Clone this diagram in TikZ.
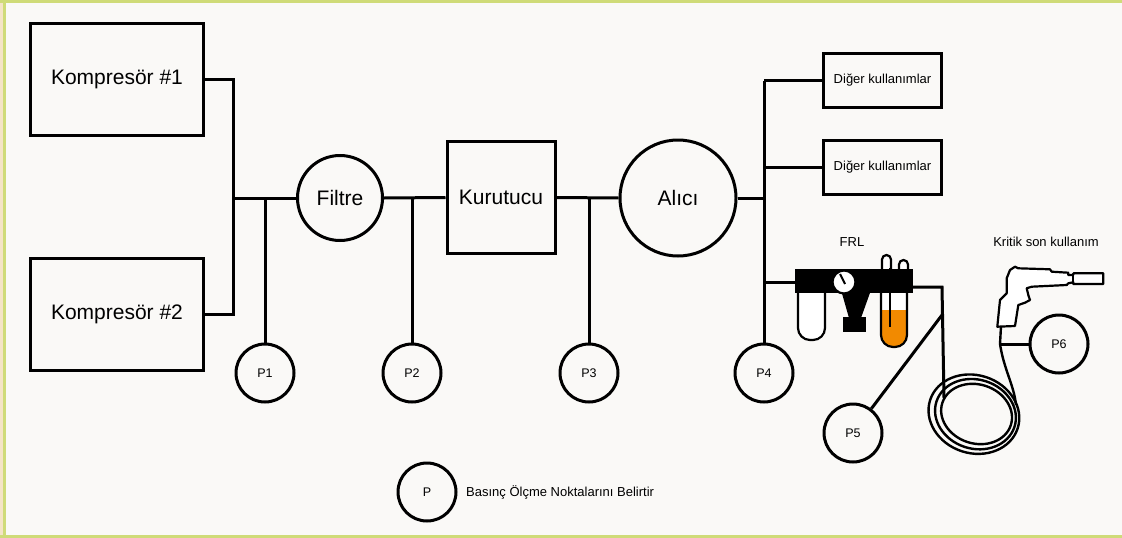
\documentclass[tikz,border=0pt]{standalone}
\usepackage{fontspec}
\setmainfont{Liberation Sans}
\begin{document}
\begin{tikzpicture}[x=1pt,y=-1pt,line join=miter,
  every node/.style={inner sep=0pt},
  bigtext/.style={font=\fontsize{21}{25}\selectfont},
  smalltext/.style={font=\fontsize{13}{16}\selectfont},
  ptext/.style={font=\fontsize{12.5}{15}\selectfont},
  unit/.style={draw=black,line width=3pt,fill=none,rectangle},
  vessel/.style={draw=black,line width=3pt,circle},
  gauge/.style={draw=black,line width=3pt,circle,minimum size=58pt,ptext},
  pipe/.style={draw=black,line width=3pt},
  thinpipe/.style={draw=black,line width=2.4pt},
  part/.style={draw=black,line width=2.2pt}]
\definecolor{paper}{HTML}{FAF9F7}
\definecolor{rim}{HTML}{CFDB78}
\definecolor{sand}{HTML}{F4E4C6}
\definecolor{oil}{HTML}{F28A00}

% page background and frame
\useasboundingbox (0,0) rectangle (1122,538);
\fill[paper] (0,0) rectangle (1122,538);
\fill[sand] (0,0) rectangle (3,538);
\fill[rim] (3,0) rectangle (6,538);
\fill[rim] (0,0) rectangle (1122,2.5);
\fill[rim] (0,535) rectangle (1122,538);

% supply side
\node[unit,bigtext,minimum width=173pt,minimum height=112pt] (k1) at (117,79.5) {Kompresör \#1};
\node[unit,bigtext,minimum width=173pt,minimum height=112pt] (k2) at (117,314) {Kompresör \#2};
\node[vessel,bigtext,minimum size=85pt] (filt) at (340,198) {Filtre};
\node[unit,bigtext,minimum width=108pt,minimum height=112pt] (dry) at (501,197.5) {Kurutucu};
\node[vessel,bigtext,minimum size=116pt] (tank) at (678,198) {Alıcı};
\node[unit,smalltext,minimum width=118pt,minimum height=54pt] (use1) at (882.5,80.5) {Diğer kullanımlar};
\node[unit,smalltext,minimum width=118pt,minimum height=54pt] (use2) at (882.5,167.5) {Diğer kullanımlar};

% pressure measuring points
\node[gauge] (p1) at (265,373) {P1};
\node[gauge] (p2) at (412,373) {P2};
\node[gauge] (p3) at (589,373) {P3};
\node[gauge] (p4) at (764,373) {P4};
\node[gauge] (p5) at (853,433) {P5};
\node[gauge] (p6) at (1059,344) {P6};
\node[gauge] (pl) at (427,492) {P};
\node[smalltext,anchor=west] (legend) at (466,492) {Basınç Ölçme Noktalarını Belirtir};

% labels
\node[smalltext] (frllabel) at (852,242) {FRL};
\node[smalltext] (critlabel) at (1046,242) {Kritik son kullanım};

% junction points
\coordinate (jl) at (233,198);
\coordinate (t1) at (265,198);
\coordinate (t2) at (412,198);
\coordinate (t3) at (589,198);
\coordinate (jr) at (764,198);
\coordinate (jtop) at (764,80.5);
\coordinate (jfrl) at (764,282);
\coordinate (frlin) at (795,282);
\coordinate (frlout) at (913,287);
\coordinate (hc) at (942,287);
\coordinate (hd) at (942,315);
\coordinate (hb) at (944,398);
\coordinate (gunend) at (1001,326);
\coordinate (hp) at (1000,344);
\coordinate (hcoil) at (1016,405);

% main line
\draw[pipe] (k1.east) -| (jl);
\draw[pipe] (k2.east) -| (jl);
\draw[pipe] (jl) -- (filt.west);
\draw[pipe] (t1) -- (p1.north);
\draw[pipe] (filt.east) -- (dry.west);
\draw[pipe] (t2) -- (p2.north);
\draw[pipe] (dry.east) -- (tank.west);
\draw[pipe] (t3) -- (p3.north);
\draw[pipe] (tank.east) -- (jr);
\draw[pipe] (jtop) -- (p4.north);
\draw[pipe] (jtop) -- (use1.west);
\draw[pipe] (use2.west) -- (use2.west -| jtop);
\draw[pipe] (jfrl) -- (frlin);

% FRL unit: filter bowl
\draw[part,fill=white,rounded corners=12pt] (798,288) -- (798,340) -- (825,340) -- (825,288);
% lubricator bowl with oil
\begin{scope}
  \clip[rounded corners=12pt] (881,288) -- (881,347) -- (907,347) -- (907,288) -- cycle;
  \fill[white] (875,285) rectangle (913,350);
  \fill[oil] (875,310) rectangle (913,350);
\end{scope}
\draw[part,rounded corners=12pt] (881,288) -- (881,347) -- (907,347) -- (907,288);
% sight loops and dip tube
\draw[part,fill=white,rounded corners=4.5pt] (882,272) -- (882,255) -- (891,255) -- (891,272);
\draw[part,fill=white,rounded corners=4.5pt] (899,272) -- (899,260) -- (908,260) -- (908,272);
\draw[part] (890,268) -- (890,327);
% body, regulator and gauge
\fill[black] (795,269) rectangle (913,293);
\fill[black] (841,290) -- (871,290) -- (861,318) -- (849,318) -- cycle;
\fill[black] (843,317) rectangle (866,332);
\draw[part,fill=white] (844,282) circle[radius=11.5pt];
\draw[line width=2pt] (840,274) -- (845,284);

% outlet hose and coil
\draw[pipe] (frlout) -- (hc) -- (hb);
\draw[pipe] (hd) -- (p5);
\draw[thinpipe,rotate around={-18:(975,414)}] (974,414.5) ellipse[x radius=46pt,y radius=39pt];
\draw[thinpipe,rotate around={-18:(975,414)}] (975.5,414) ellipse[x radius=41pt,y radius=34.5pt];
\draw[thinpipe,rotate around={-18:(975,414)}] (976.5,413.5) ellipse[x radius=36pt,y radius=29.5pt];
\draw[thinpipe] (gunend) -- (hp) .. controls (1004,370) and (1014,385) .. (hcoil);
\draw[pipe] (hp) -- (p6.west);

% spray gun outline
\draw[part,fill=white,line join=round]
  (1010,270) -- (1015,266.7) -- (1018.3,268.3) -- (1050,269.3) -- (1051.7,271.7)
  -- (1068.3,272.7) -- (1068.3,275) -- (1073.3,275) -- (1073.3,273.3)
  -- (1103.3,273.3) -- (1103.3,284) -- (1073.3,284) -- (1073.3,282.3)
  -- (1068.3,283.3) -- (1066.7,285) -- (1031.7,286.7) -- (1026.7,288.3)
  -- (1028.3,295) -- (1030,300) -- (1025,302.7) -- (1018.3,305)
  -- (1015,326) -- (997.3,326.7) -- (1000,300) -- (1006.7,293.3)
  -- (1006.7,278.3) -- cycle;
\draw[part] (1073.3,275) -- (1073.3,282.3);
\end{tikzpicture}
\end{document}
